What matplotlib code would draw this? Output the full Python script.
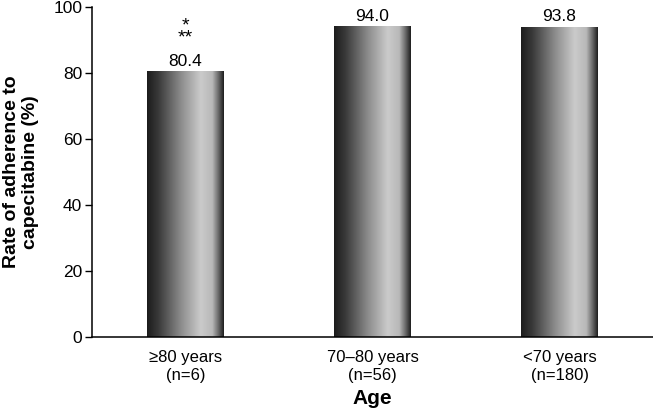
import numpy as np
import matplotlib
matplotlib.use('Agg')
import matplotlib.pyplot as plt
from matplotlib.colors import LinearSegmentedColormap

categories = ['\u226580 years\n(n=6)', '70\u201380 years\n(n=56)', '<70 years\n(n=180)']
rates = [80.4, 94.0, 93.8]
labels = ['80.4', '94.0', '93.8']

plt.rcParams['font.family'] = ['Liberation Sans', 'DejaVu Sans']

fig = plt.figure(figsize=(6.53, 4.09), dpi=100)
ax = fig.add_axes([0.141, 0.176, 0.859, 0.807])

grad = LinearSegmentedColormap.from_list('bar', [
    (0.0, '#1c1c1c'), (0.15, '#3a3a3a'), (0.45, '#8e8e8e'),
    (0.7, '#cbcbcb'), (0.85, '#b8b8b8'), (0.93, '#6a6a6a'), (1.0, '#1e1e1e')])
g = np.linspace(0, 1, 256).reshape(1, -1)

w = 0.41
x = np.arange(len(categories))
bars = ax.bar(x, rates, width=w, color='none', edgecolor='none')
for b in bars:
    x0, y0 = b.get_x(), b.get_y()
    ax.imshow(g, cmap=grad, aspect='auto',
              extent=[x0, x0 + b.get_width(), y0, y0 + b.get_height()], zorder=2)

for xi, r, t in zip(x, rates, labels):
    ax.text(xi, r + 0.9, t, ha='center', va='bottom', fontsize=12.5)
# significance marks above first bar
ax.text(0, 88.1, '*\n**', ha='center', va='bottom', fontsize=14, linespacing=0.62)

ax.set_xlim(-0.5, 2.5)
ax.set_ylim(0, 100)
ax.set_yticks([0, 20, 40, 60, 80, 100])
ax.set_xticks(x)
ax.set_xticklabels(categories, fontsize=12, linespacing=1.25)
ax.tick_params(axis='y', labelsize=12.5, length=5, width=1, pad=2)
ax.tick_params(axis='x', length=0, pad=9)
ax.spines['top'].set_visible(False)
ax.spines['right'].set_visible(False)
for s in ['left', 'bottom']:
    ax.spines[s].set_linewidth(1.1)
ax.set_ylabel('Rate of adherence to\ncapecitabine (%)', fontsize=14, fontweight='bold', labelpad=10)
ax.set_xlabel('Age', fontsize=15, fontweight='bold', labelpad=5)

fig.savefig('out.png', dpi=100)
